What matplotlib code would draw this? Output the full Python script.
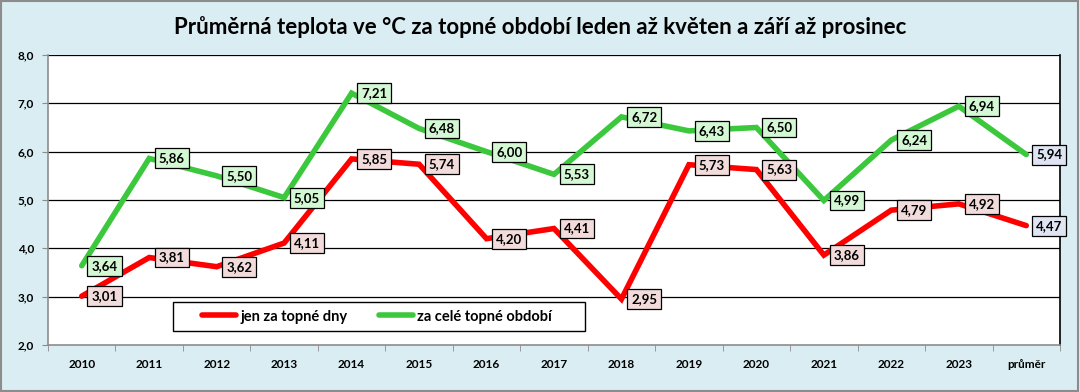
"""Průměrná teplota za topné období — two line series with value boxes."""
import matplotlib.pyplot as plt
from matplotlib.patches import Rectangle

categories = ["2010", "2011", "2012", "2013", "2014", "2015", "2016", "2017",
              "2018", "2019", "2020", "2021", "2022", "2023", "průměr"]
heating_days = [3.01, 3.81, 3.62, 4.11, 5.85, 5.74, 4.20, 4.41,
                2.95, 5.73, 5.63, 3.86, 4.79, 4.92, 4.47]
whole_period = [3.64, 5.86, 5.50, 5.05, 7.21, 6.48, 6.00, 5.53,
                6.72, 6.43, 6.50, 4.99, 6.24, 6.94, 5.94]
y_ticks = [2, 3, 4, 5, 6, 7, 8]

BG = "#DAEDF3"
RED = "#FF0000"
GREEN = "#3CC83C"
RED_BOX = "#F2DCDB"
GREEN_BOX = "#D4F7D4"
AVG_BOX = "#DFE4F3"
FONT = ["Lato", "DejaVu Sans"]


def fmt(v):
    return f"{v:.2f}".replace(".", ",")


def main():
    plt.rcParams["font.family"] = FONT
    fig = plt.figure(figsize=(10.8, 3.92), dpi=100, facecolor=BG)
    ax = fig.add_axes([48 / 1080, 1 - 345 / 392, 1012 / 1080, 290 / 392])
    ax.set_facecolor("white")
    fig.patches.append(Rectangle((0.001, 0.002), 0.997, 0.995, transform=fig.transFigure,
                                 fill=False, edgecolor="#8C8C8C", linewidth=1.5))

    x = list(range(len(categories)))
    ax.set_xlim(-0.5, len(categories) - 0.5)
    ax.set_ylim(2, 8)

    for yv in y_ticks[1:]:
        ax.axhline(yv, color="black", linewidth=0.9, zorder=1)

    l1, = ax.plot(x, heating_days, color=RED, linewidth=4, solid_capstyle="round",
                  solid_joinstyle="miter", zorder=3, label="jen za topné dny")
    l2, = ax.plot(x, whole_period, color=GREEN, linewidth=4, solid_capstyle="round",
                  solid_joinstyle="miter", zorder=3, label="za celé topné období")

    for series, face in ((heating_days, RED_BOX), (whole_period, GREEN_BOX)):
        for i, v in enumerate(series):
            fc = AVG_BOX if i == len(series) - 1 else face
            ax.annotate(fmt(v), (i, v), xytext=(7, 0), textcoords="offset points",
                        ha="left", va="center", fontsize=9.5, fontweight="bold",
                        color="black", zorder=5,
                        bbox=dict(boxstyle="square,pad=0.3", facecolor=fc,
                                  edgecolor="black", linewidth=0.9))

    ax.set_yticks(y_ticks)
    ax.set_yticklabels([f"{v:.1f}".replace(".", ",") for v in y_ticks],
                       fontsize=8.5, fontweight="bold")
    ax.set_xticks(x)
    ax.set_xticklabels(categories, fontsize=8.5, fontweight="bold")
    ax.set_xticks([i - 0.5 for i in range(len(categories) + 1)], minor=True)
    ax.tick_params(axis="x", which="major", length=0, pad=10)
    ax.tick_params(axis="x", which="minor", length=4, color="#8C8C8C", direction="out")
    ax.tick_params(axis="y", length=4, color="#8C8C8C", pad=6)

    for side in ("left", "bottom"):
        ax.spines[side].set_color("#8C8C8C")
        ax.spines[side].set_linewidth(1.2)
    ax.spines["right"].set_color("black")
    ax.spines["right"].set_linewidth(1.2)
    ax.spines["top"].set_visible(False)

    # legend frame drawn separately, Excel-style with content left aligned
    frame_x0 = (173 - 48) / 1012
    frame_w = (585 - 173) / 1012
    frame_y0 = (345 - 331) / 290
    frame_h = (331 - 302) / 290
    ax.add_patch(Rectangle((frame_x0, frame_y0), frame_w, frame_h, transform=ax.transAxes,
                           facecolor="white", edgecolor="black", linewidth=1.0, zorder=6))
    leg = ax.legend(handles=[l1, l2], loc="center left",
                    bbox_to_anchor=(frame_x0 + 22 / 1012, frame_y0 + frame_h / 2),
                    ncol=2, frameon=False,
                    prop={"family": FONT, "weight": "bold", "size": 10.5},
                    handlelength=2.3, columnspacing=2.2, borderpad=0.0,
                    handletextpad=0.3)
    leg.set_zorder(7)

    fig.text(0.5, 1 - 27 / 392, "Průměrná teplota ve °C za topné období leden až květen a září až prosinec",
             ha="center", va="center", fontsize=16, fontweight="bold", color="black")

    fig.savefig("out.png", dpi=100, facecolor=BG)


if __name__ == "__main__":
    main()
